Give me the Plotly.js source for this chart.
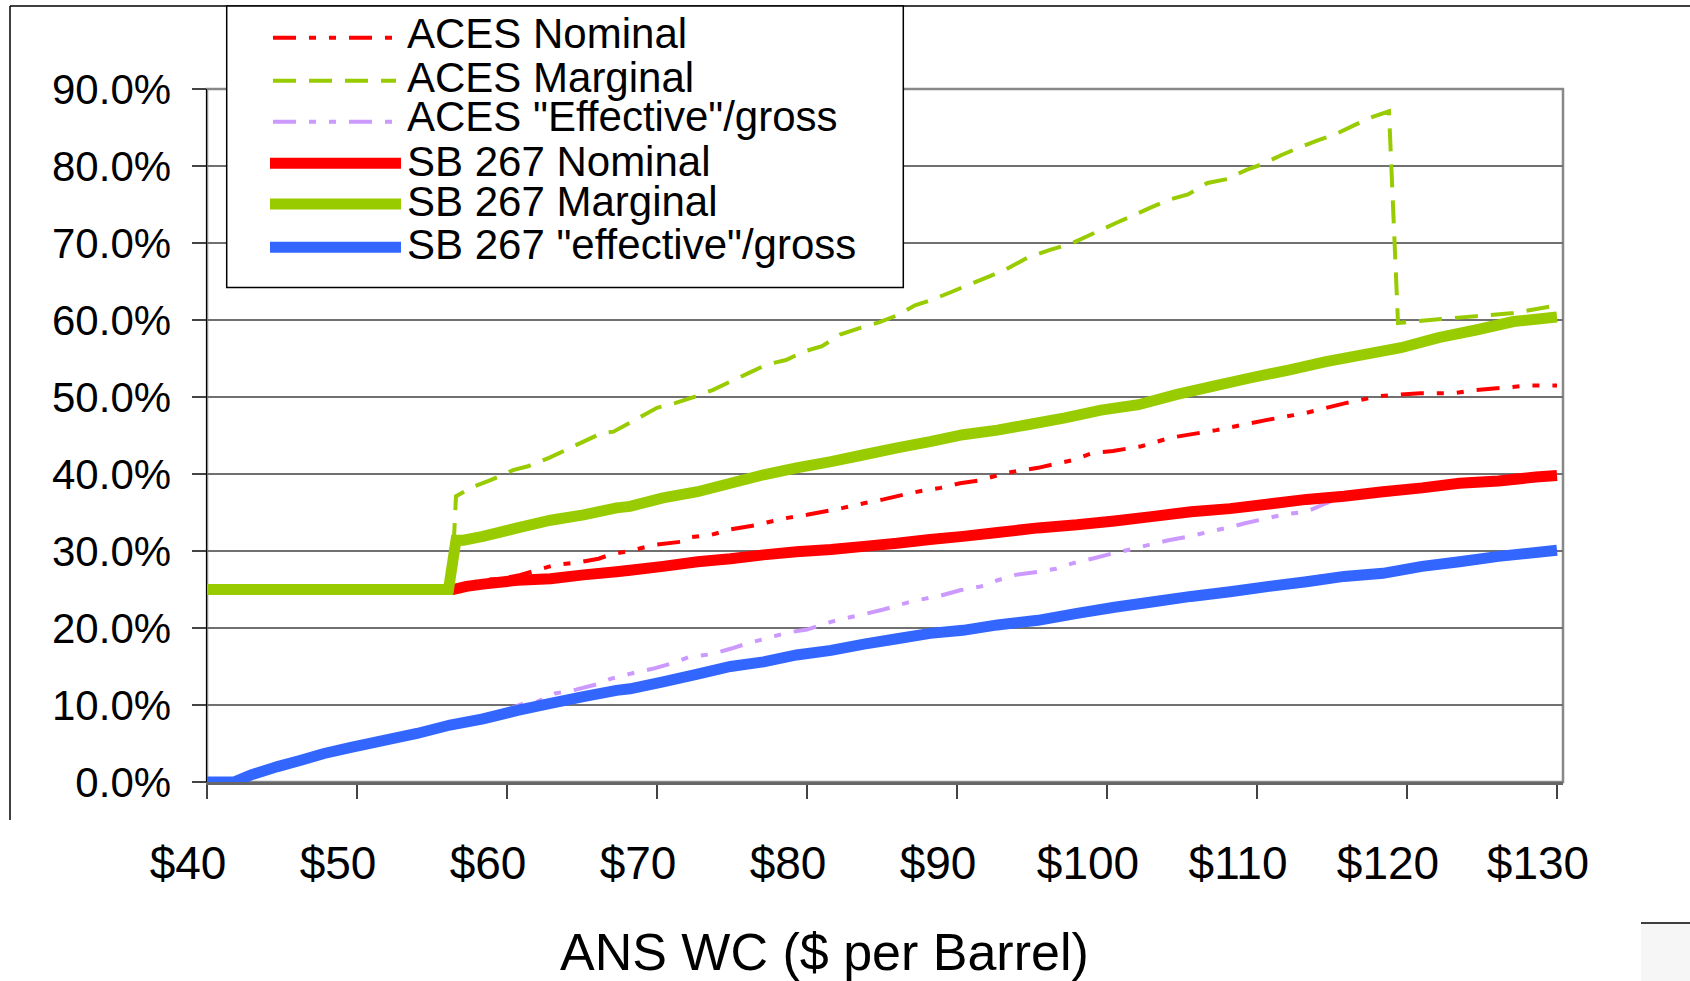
<!DOCTYPE html>
<html>
<head>
<meta charset="utf-8">
<script src="https://cdn.plot.ly/plotly-3.0.1.min.js"></script>
<style>
  html, body { margin: 0; padding: 0; background: #fff; }
  #chart { width: 1690px; height: 981px; }
</style>
</head>
<body>
<div id="chart"></div>
<script>
// ---------------- DATA ----------------
const seriesNames = [
  'ACES Nominal',
  'ACES Marginal',
  'ACES "Effective"/gross',
  'SB 267 Nominal',
  'SB 267 Marginal',
  'SB 267 "effective"/gross'
];

// ACES Nominal
const priceAcesNominal = [40, 56.5, 58.2, 59.6, 60.9, 61.8, 63.2, 64.7, 66.1, 67.0, 68.4, 69.8, 71.6, 72.3, 73.6, 74.9, 76.7, 77.3, 78.7, 80.0, 81.6, 82.4, 83.8, 85.1, 86.4, 87.6, 88.9, 90.2, 91.6, 92.8, 94.0, 95.4, 97.7, 99.0, 100.4, 102.3, 104.2, 107.3, 110.6, 113.2, 115.9, 118.1, 120.9, 123.1, 124.6, 128.2, 130.0];
const rateAcesNominal  = [25.0, 25.0, 26.2, 26.4, 26.9, 27.4, 28.2, 28.5, 29.0, 29.6, 30.1, 30.8, 31.2, 31.8, 32.1, 32.8, 33.4, 33.7, 34.3, 34.7, 35.3, 35.6, 36.2, 36.7, 37.3, 37.8, 38.2, 38.8, 39.2, 39.9, 40.4, 40.8, 41.8, 42.7, 43.0, 43.6, 44.7, 45.7, 47.0, 47.9, 49.2, 50.1, 50.5, 50.5, 50.9, 51.5, 51.5];

// ACES Marginal
const priceAcesMarginal = [40, 56.3, 56.6, 57.8, 58.9, 60.4, 61.4, 62.8, 63.9, 65.1, 66.3, 67.1, 68.5, 70.0, 71.2, 72.6, 73.7, 74.9, 76.1, 77.3, 78.6, 79.8, 81.0, 82.2, 83.6, 84.8, 86.0, 87.2, 88.3, 89.7, 90.8, 92.2, 93.2, 94.7, 96.2, 97.7, 99.6, 100.6, 101.9, 102.9, 104.1, 105.4, 106.7, 108.0, 109.3, 110.3, 111.6, 112.7, 114.0, 115.2, 116.6, 117.6, 118.8, 119.4, 122.1, 124.6, 127.1, 130.0];
const rateAcesMarginal  = [25.0, 25.0, 37.1, 38.4, 39.2, 40.5, 41.0, 42.1, 43.1, 44.2, 45.3, 45.5, 47.0, 48.6, 49.2, 50.1, 50.9, 52.0, 53.1, 54.2, 54.8, 55.9, 56.6, 58.1, 59.0, 59.7, 60.6, 61.9, 62.6, 63.7, 64.6, 65.7, 66.5, 68.1, 69.1, 70.0, 71.7, 72.6, 73.7, 74.6, 75.6, 76.3, 77.8, 78.3, 79.5, 80.2, 81.4, 82.3, 83.3, 84.1, 85.4, 86.3, 87.1, 59.6, 60.1, 60.5, 60.9, 61.9];

// ACES "Effective"/gross
const priceAcesEffective = [40, 41.8, 42.9, 44.7, 46.2, 47.8, 49.6, 51.8, 54.0, 56.2, 58.1, 59.6, 61.1, 62.0, 63.2, 64.6, 66.0, 66.9, 68.3, 69.7, 71.0, 72.1, 73.6, 74.9, 76.2, 77.2, 78.7, 80.0, 81.6, 82.4, 83.8, 85.1, 86.7, 87.6, 88.9, 90.2, 91.6, 92.7, 93.9, 95.4, 96.6, 97.7, 99.0, 100.4, 101.8, 102.8, 104.1, 105.5, 106.8, 108.2, 109.2, 110.8, 111.9, 113.3, 114.6, 115.8, 118.4, 121.0, 123.5, 126.1, 128.6, 130.0];
const rateAcesEffective  = [0.0, 0.0, 0.9, 2.0, 2.8, 3.7, 4.5, 5.4, 6.3, 7.4, 8.5, 9.1, 10.2, 10.4, 11.5, 12.0, 12.7, 13.4, 14.1, 14.7, 15.4, 16.2, 16.6, 17.3, 18.1, 18.6, 19.4, 19.8, 20.8, 21.2, 21.8, 22.4, 23.3, 23.7, 24.2, 24.9, 25.4, 26.2, 26.9, 27.3, 27.7, 28.4, 29.0, 29.7, 30.3, 30.8, 31.4, 31.9, 32.5, 33.1, 33.6, 34.3, 34.8, 35.1, 36.2, 37.1, 37.7, 38.2, 38.8, 39.1, 39.6, 39.8];

// SB 267 Nominal
const priceSbNominal = [40, 56.4, 57.3, 58.4, 60.7, 62.9, 65.1, 67.3, 68.2, 70.4, 72.7, 74.9, 77.1, 79.3, 81.6, 83.8, 86.0, 88.2, 90.4, 92.7, 95.4, 98.0, 100.5, 103.1, 105.6, 108.2, 110.8, 113.3, 115.8, 118.4, 121.0, 123.5, 126.1, 128.6, 130.0];
const rateSbNominal  = [25.0, 25.0, 25.4, 25.7, 26.2, 26.4, 26.9, 27.3, 27.5, 28.0, 28.6, 29.0, 29.5, 29.9, 30.2, 30.6, 31.0, 31.5, 31.9, 32.4, 33.0, 33.4, 33.9, 34.5, 35.1, 35.5, 36.1, 36.7, 37.1, 37.7, 38.2, 38.8, 39.1, 39.6, 39.8];

// SB 267 Marginal
const priceSbMarginal = [40, 56.1, 56.6, 57.1, 58.4, 60.7, 62.9, 65.1, 67.3, 68.2, 70.4, 72.7, 74.9, 77.1, 79.3, 81.6, 83.8, 86.0, 88.2, 90.4, 92.7, 94.7, 97.2, 99.6, 102.1, 104.6, 107.1, 109.6, 112.1, 114.6, 117.1, 119.6, 122.1, 124.6, 127.1, 130.0];
const rateSbMarginal  = [25.0, 25.0, 31.4, 31.4, 31.9, 33.0, 34.0, 34.7, 35.6, 35.8, 36.9, 37.7, 38.8, 39.9, 40.8, 41.6, 42.5, 43.4, 44.2, 45.1, 45.7, 46.4, 47.3, 48.3, 49.0, 50.3, 51.4, 52.5, 53.5, 54.6, 55.5, 56.4, 57.7, 58.7, 59.8, 60.4];

// SB 267 "effective"/gross
const priceSbEffective = [40, 41.8, 42.9, 44.7, 46.2, 47.8, 49.6, 51.8, 54.0, 56.2, 58.4, 60.7, 62.9, 65.1, 67.3, 68.2, 70.4, 72.7, 74.9, 77.1, 79.3, 81.6, 83.8, 86.0, 88.2, 90.4, 92.7, 95.4, 98.0, 100.5, 103.1, 105.6, 108.2, 110.8, 113.3, 115.8, 118.4, 121.0, 123.5, 126.1, 130.0];
const rateSbEffective  = [0.0, 0.0, 0.9, 2.0, 2.8, 3.7, 4.5, 5.4, 6.3, 7.4, 8.2, 9.3, 10.2, 11.1, 11.9, 12.1, 13.0, 14.0, 15.0, 15.6, 16.5, 17.1, 17.9, 18.6, 19.3, 19.7, 20.4, 21.0, 21.9, 22.7, 23.4, 24.1, 24.7, 25.4, 26.0, 26.7, 27.1, 28.0, 28.6, 29.3, 30.1];

// Tick labels
const xTickVals = [40, 50, 60, 70, 80, 90, 100, 110, 120, 130];
const xTickText = ['$40', '$50', '$60', '$70', '$80', '$90', '$100', '$110', '$120', '$130'];
const yTickVals = [0, 10, 20, 30, 40, 50, 60, 70, 80, 90];
const yTickText = ['0.0%', '10.0%', '20.0%', '30.0%', '40.0%', '50.0%', '60.0%', '70.0%', '80.0%', '90.0%'];
const xAxisTitle = 'ANS WC ($ per Barrel)';

// ---------------- STYLES ----------------
const RED = '#FF0000', GREEN = '#99CC00', LAVENDER = '#CC99FF', BLUE = '#3366FF';
const DASHDOTDOT = '23px,13px,7px,13px,7px,13px';
const DASH = '23px,13px';
const FONT = 'Liberation Sans, Arial, Helvetica, sans-serif';

const styles = [
  { color: RED, width: 4, dash: DASHDOTDOT },
  { color: GREEN, width: 4, dash: DASH },
  { color: LAVENDER, width: 4, dash: DASHDOTDOT },
  { color: RED, width: 11, dash: 'solid' },
  { color: GREEN, width: 11, dash: 'solid' },
  { color: BLUE, width: 11, dash: 'solid' }
];
const xs = [priceAcesNominal, priceAcesMarginal, priceAcesEffective, priceSbNominal, priceSbMarginal, priceSbEffective];
const ys = [rateAcesNominal, rateAcesMarginal, rateAcesEffective, rateSbNominal, rateSbMarginal, rateSbEffective];

const traces = seriesNames.map((name, i) => ({
  type: 'scatter',
  mode: 'lines',
  name: name,
  x: xs[i],
  y: ys[i],
  line: { color: styles[i].color, width: styles[i].width, dash: styles[i].dash, simplify: false },
  hoverinfo: 'x+y+name'
}));

// ---------------- LAYOUT ----------------
const FW = 1690, FH = 981;
const L = 207, R = 127, T = 89, B = 199;
const PW = FW - L - R, PH = FH - T - B;
const px = v => (v - L) / PW;          // page pixel -> paper x
const py = v => (T + PH - v) / PH;     // page pixel -> paper y

// legend geometry (page pixels)
const legendLineY = [37.7, 80.7, 121.7, 163.3, 204, 247.3];
const legendTextBase = [48.3, 91.7, 130.7, 176, 216, 259.3];
const LEG_FONT = 42;
const TITLE_FONT = 52;

const shapes = [];
const annotations = [];

// x-axis title
annotations.push({
  xref: 'paper', yref: 'paper', x: px(824), y: py(970.5 - 0.3465 * TITLE_FONT),
  xanchor: 'center', yanchor: 'middle', showarrow: false, borderpad: 0,
  text: xAxisTitle, font: { family: FONT, size: TITLE_FONT, color: '#000' }
});

// plot-area frame (right / top / bottom)
shapes.push({ type: 'rect', xref: 'paper', yref: 'paper', x0: 0, x1: 1, y0: 0, y1: 1,
  line: { color: '#888888', width: 2.5 }, layer: 'below' });

// outer chart-area frame (top & left edges visible)
shapes.push({ type: 'line', xref: 'paper', yref: 'paper', x0: px(10), x1: px(1690), y0: py(6), y1: py(6),
  line: { color: '#000', width: 1.5 } });
shapes.push({ type: 'line', xref: 'paper', yref: 'paper', x0: px(10), x1: px(10), y0: py(6), y1: py(820),
  line: { color: '#000', width: 1.5 } });

// bottom-right corner box
shapes.push({ type: 'rect', xref: 'paper', yref: 'paper', x0: px(1641), x1: px(1692), y0: py(923), y1: py(983),
  line: { width: 0 }, fillcolor: '#f6f6f6' });
shapes.push({ type: 'line', xref: 'paper', yref: 'paper', x0: px(1641), x1: px(1690), y0: py(923), y1: py(923),
  line: { color: '#000', width: 1.5 } });

// legend box
shapes.push({ type: 'rect', xref: 'paper', yref: 'paper', x0: px(226.7), x1: px(903.3), y0: py(6), y1: py(287.5),
  line: { color: '#000', width: 1.5 }, fillcolor: '#ffffff', layer: 'above' });

seriesNames.forEach((name, i) => {
  const solid = styles[i].dash === 'solid';
  shapes.push({
    type: 'line', xref: 'paper', yref: 'paper',
    x0: px(solid ? 270 : 273), x1: px(solid ? 401 : 396),
    y0: py(legendLineY[i]), y1: py(legendLineY[i]),
    line: { color: styles[i].color, width: styles[i].width, dash: styles[i].dash },
    layer: 'above'
  });
  annotations.push({
    xref: 'paper', yref: 'paper', x: px(406), y: py(legendTextBase[i] - 0.3465 * LEG_FONT),
    xanchor: 'left', yanchor: 'middle', showarrow: false, borderpad: 0,
    text: name, font: { family: FONT, size: LEG_FONT, color: '#000' }
  });
});

const layout = {
  width: FW, height: FH,
  margin: { l: L, r: R, t: T, b: B, pad: 0 },
  paper_bgcolor: '#ffffff', plot_bgcolor: '#ffffff',
  showlegend: false,
  font: { family: FONT, color: '#000' },
  xaxis: {
    range: [40, 40 + PW / 15],
    tickmode: 'array', tickvals: xTickVals, ticktext: xTickText,
    ticks: 'outside', ticklen: 14, tickwidth: 1.2, tickcolor: '#444',
    tickfont: { family: FONT, size: 46, color: '#000' },
    ticklabelstandoff: 25, ticklabelshift: -19,
    showgrid: false, zeroline: false,
    showline: true, linecolor: '#666', linewidth: 2.5,
    automargin: false, fixedrange: true
  },
  yaxis: {
    range: [0, 90],
    tickmode: 'array', tickvals: yTickVals, ticktext: yTickText,
    ticks: 'outside', ticklen: 14, tickwidth: 1.2, tickcolor: '#444',
    tickfont: { family: FONT, size: 42, color: '#000' },
    ticklabelstandoff: 12,
    showgrid: true, gridcolor: '#707070', gridwidth: 1.5,
    zeroline: false,
    showline: true, linecolor: '#000', linewidth: 1.5,
    automargin: false, fixedrange: true
  },
  shapes: shapes,
  annotations: annotations
};

Plotly.newPlot('chart', traces, layout, { displayModeBar: false, staticPlot: true });
</script>
</body>
</html>
